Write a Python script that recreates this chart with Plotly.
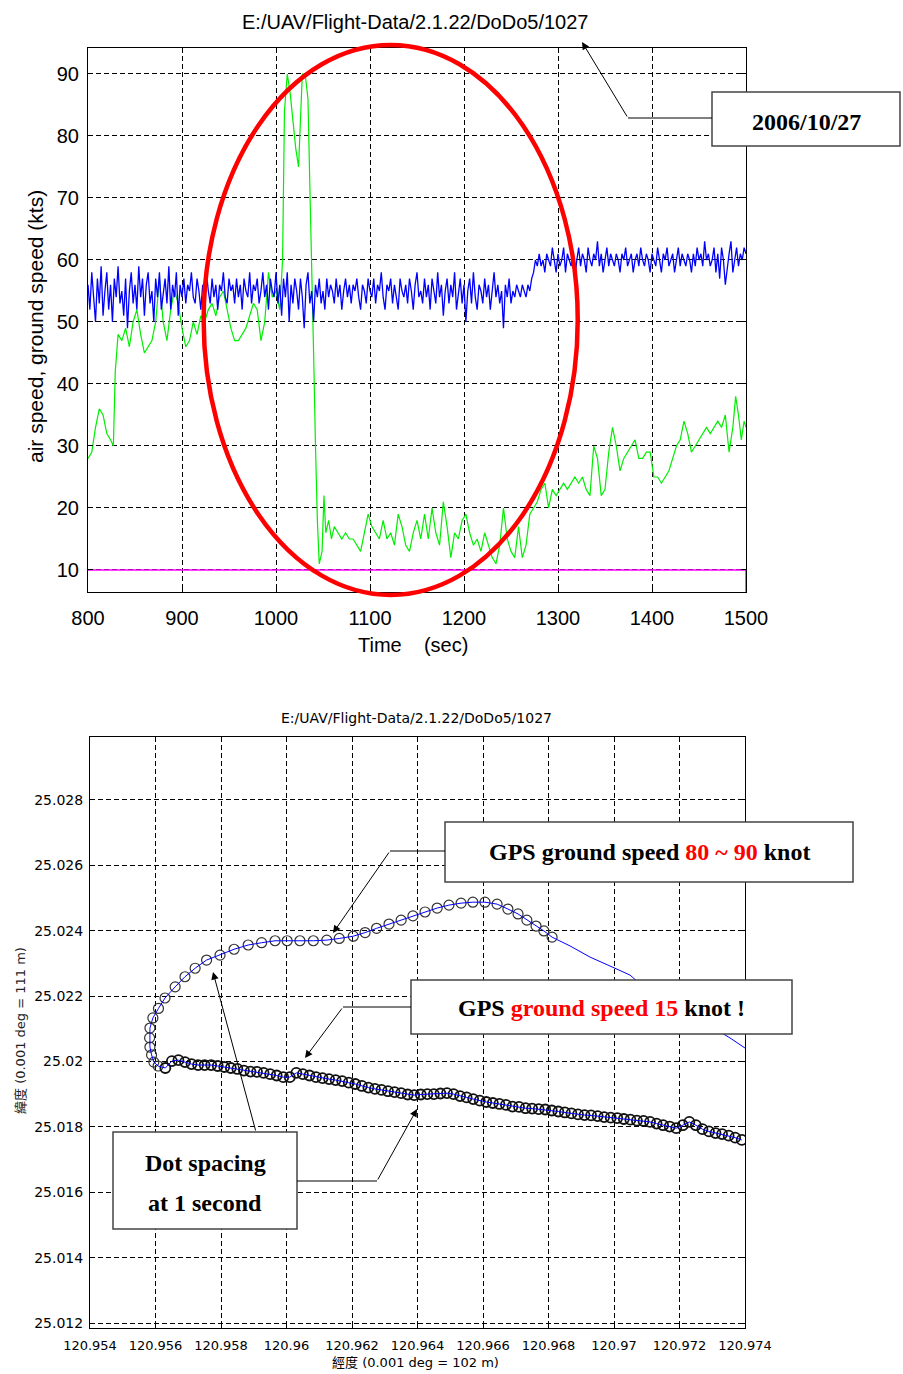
import plotly.graph_objects as go

W, H = 903, 1374

# ---------------- top panel data (time in s, speed in kts) ----------------
# ground speed (blue), sampled every 2 s from 800 s
blue_speed = [
    56, 52, 58, 54, 50, 57, 53, 59, 51, 55,
    58, 52, 56, 50, 57, 54, 59, 53, 55, 51,
    57, 49, 55, 58, 53, 56, 52, 59, 54, 57,
    51, 56, 58, 53, 55, 50, 57, 54, 58, 52,
    55, 57, 53, 59, 52, 56, 54, 58, 51, 56,
    54, 57, 53, 56, 55, 58, 54, 53, 57, 55,
    52, 56, 54, 58, 55, 53, 57, 54, 56, 52,
    56, 55, 58, 54, 53, 57, 55, 56, 53, 57,
    54, 56, 52, 57, 55, 54, 58, 53, 56, 55,
    57, 53, 55, 58, 54, 56, 52, 57, 55, 54,
    58, 53, 56, 51, 57, 54, 58, 50, 56, 53,
    57, 55, 52, 57, 54, 49, 56, 58, 53, 55,
    50, 56, 54, 57, 53, 55, 52, 57, 54, 56,
    55, 53, 57, 54, 56, 52, 55, 57, 54, 56,
    53, 56, 55, 57, 54, 52, 56, 55, 53, 57,
    55, 54, 57, 53, 56, 55, 58, 54, 52, 56,
    55, 57, 53, 56, 54, 52, 57, 55, 54, 56,
    53, 57, 55, 52, 56, 58, 54, 55, 53, 57,
    54, 56, 52, 57, 55, 53, 58, 54, 56, 51,
    55, 57, 53, 56, 54, 58, 52, 55, 57, 53,
    56, 50, 55, 57, 53, 58, 54, 52, 56, 55,
    53, 57, 54, 56, 52, 55, 58, 54, 56, 53,
    55, 49, 56, 54, 57, 53, 55, 54, 56, 55,
    54, 56, 55, 54, 56, 55, 57, 58, 60, 59,
    61, 59, 60, 58, 61, 60, 59, 62, 60, 58,
    61, 59, 60, 62, 58, 61, 60, 59, 61, 57,
    60, 62, 59, 61, 60, 58, 62, 60, 59, 61,
    60, 63, 59, 61, 58, 60, 62, 59, 61, 60,
    59, 61, 60, 58, 61, 60, 62, 59, 60, 61,
    58, 60, 61, 59, 62, 60, 59, 61, 60, 58,
    61, 60, 59, 62, 60, 58, 61, 60, 62, 59,
    60, 61, 58, 60, 62, 59, 61, 60, 59, 61,
    60, 58, 61, 59, 62, 60, 61, 59, 63, 60,
    61, 59, 60, 62, 58, 61, 57, 62, 60, 56,
    59, 61, 63, 58, 60, 62, 59, 61, 60, 62,
    61,
]
blue_time = [800 + 2 * i for i in range(len(blue_speed))]

# airspeed (green)
green_time = [
    800, 804, 808, 812, 816, 820, 824, 827, 829, 832,
    836, 840, 844, 848, 852, 856, 860, 864, 868, 872,
    876, 880, 884, 888, 892, 896, 900, 904, 908, 912,
    916, 920, 924, 928, 932, 936, 940, 944, 948, 952,
    956, 960, 964, 968, 972, 976, 980, 984, 988, 992,
    996, 1000, 1004, 1007, 1009, 1012, 1015, 1018, 1021, 1024,
    1026, 1028, 1031, 1034, 1036, 1038, 1040, 1042, 1044, 1046,
    1049, 1051, 1053, 1056, 1059, 1062, 1066, 1070, 1074, 1078,
    1082, 1086, 1090, 1094, 1098, 1102, 1106, 1110, 1114, 1118,
    1122, 1126, 1130, 1134, 1138, 1142, 1146, 1150, 1154, 1158,
    1162, 1166, 1170, 1174, 1178, 1182, 1186, 1190, 1194, 1198,
    1202, 1206, 1210, 1214, 1218, 1222, 1226, 1230, 1234, 1238,
    1242, 1246, 1250, 1254, 1258, 1262, 1266, 1270, 1274, 1278,
    1282, 1286, 1290, 1294, 1298, 1302, 1306, 1310, 1314, 1318,
    1322, 1326, 1330, 1334, 1338, 1342, 1346, 1350, 1354, 1358,
    1362, 1366, 1370, 1374, 1378, 1382, 1386, 1390, 1394, 1398,
    1402, 1406, 1410, 1414, 1418, 1422, 1426, 1430, 1434, 1438,
    1442, 1446, 1450, 1454, 1458, 1462, 1466, 1470, 1474, 1478,
    1482, 1486, 1489, 1492, 1495, 1498, 1500,
]
green_speed = [
    28, 29, 33, 36, 35, 32, 31, 30, 42, 48,
    47, 49, 46, 50, 52, 48, 45, 46, 47, 50,
    57, 50, 47, 52, 55, 53, 49, 46, 47, 50,
    48, 51, 50, 52, 53, 51, 54, 55, 52, 49,
    47, 47, 48, 49, 51, 53, 52, 47, 50, 58,
    54, 55, 52, 60, 84, 90, 87, 82, 78, 75,
    84, 90, 90, 86, 72, 60, 45, 30, 18, 11,
    13, 22, 16, 18, 15, 17, 16, 15, 16, 15,
    15, 14, 13, 16, 19, 17, 16, 15, 18, 15,
    16, 14, 19, 17, 14, 13, 16, 18, 15, 19,
    15, 20, 16, 14, 21, 17, 12, 16, 15, 18,
    19, 16, 14, 15, 13, 16, 14, 12, 11, 14,
    20, 15, 13, 12, 17, 12, 14, 19, 20, 21,
    23, 24, 20, 23, 22, 23, 24, 23, 24, 25,
    24, 25, 23, 22, 30, 28, 22, 23, 29, 33,
    30, 26, 28, 29, 30, 31, 28, 28, 29, 29,
    25, 25, 24, 25, 26, 28, 30, 31, 34, 32,
    29, 30, 31, 32, 33, 32, 33, 34, 33, 35,
    29, 33, 38, 35, 31, 34, 33,
]
limit_time = [800, 1500, 1500]
limit_speed = [10, 10, 6.5]

time_ticks = [800, 900, 1000, 1100, 1200, 1300, 1400, 1500]
speed_ticks = [10, 20, 30, 40, 50, 60, 70, 80, 90]

# highlighted window (ellipse) in data units
ell_time = [923, 1321]
ell_speed = [5.97, 94.68]

# ---------------- bottom panel data (GPS track) ----------------
tail_lon = [120.97400, 120.97354, 120.97299, 120.97232, 120.97165,
            120.97095, 120.97049, 120.96994, 120.96927, 120.96866]
tail_lat = [25.02041, 25.02072, 25.02105, 25.02145, 25.02185,
            25.02224, 25.02264, 25.02289, 25.02319, 25.02353]

loop_lon = [
    120.96811, 120.96786, 120.96762, 120.96734, 120.96707, 120.96676, 120.96643, 120.96606, 120.96569, 120.96533,
    120.96496, 120.96460, 120.96423, 120.96386, 120.96350, 120.96313, 120.96275, 120.96240, 120.96204, 120.96161,
    120.96123, 120.96082, 120.96041, 120.96002, 120.95965, 120.95924, 120.95883, 120.95840, 120.95797, 120.95756,
    120.95721, 120.95690, 120.95660, 120.95629, 120.95609, 120.95592, 120.95583, 120.95582, 120.95583, 120.95588,
    120.95595, 120.95608,
]
loop_lat = [
    25.02380, 25.02399, 25.02414, 25.02432, 25.02451, 25.02466, 25.02481, 25.02487, 25.02487, 25.02484,
    25.02478, 25.02469, 25.02457, 25.02445, 25.02432, 25.02420, 25.02407, 25.02394, 25.02383, 25.02376,
    25.02371, 25.02369, 25.02369, 25.02369, 25.02369, 25.02363, 25.02356, 25.02343, 25.02325, 25.02310,
    25.02285, 25.02259, 25.02228, 25.02194, 25.02162, 25.02133, 25.02102, 25.02072, 25.02044, 25.02020,
    25.01998, 25.01986,
]

slow_lon = [
    120.9563, 120.9565, 120.9567, 120.9569, 120.9571, 120.9573, 120.9575, 120.9577, 120.9579, 120.9581,
    120.9583, 120.9585, 120.9587, 120.9589, 120.9591, 120.9593, 120.9595, 120.9597, 120.9599, 120.9601,
    120.9603, 120.9605, 120.9607, 120.9609, 120.9611, 120.9613, 120.9615, 120.9617, 120.9619, 120.9621,
    120.9623, 120.9625, 120.9627, 120.9629, 120.9631, 120.9633, 120.9635, 120.9637, 120.9639, 120.9641,
    120.9643, 120.9645, 120.9647, 120.9649, 120.9651, 120.9653, 120.9655, 120.9657, 120.9659, 120.9661,
    120.9663, 120.9665, 120.9667, 120.9669, 120.9671, 120.9673, 120.9675, 120.9677, 120.9679, 120.9681,
    120.9683, 120.9685, 120.9687, 120.9689, 120.9691, 120.9693, 120.9695, 120.9697, 120.9699, 120.9701,
    120.9703, 120.9705, 120.9707, 120.9709, 120.9711, 120.9713, 120.9715, 120.9717, 120.9719, 120.9721,
    120.9723, 120.9725, 120.9727, 120.9729, 120.9731, 120.9733, 120.9735, 120.9737, 120.9739,
]
slow_lat = [
    25.01980, 25.02001, 25.02004, 25.01998, 25.01992, 25.01989, 25.01989, 25.01989, 25.01986, 25.01983,
    25.01980, 25.01977, 25.01972, 25.01969, 25.01968, 25.01965, 25.01961, 25.01957, 25.01952, 25.01952,
    25.01965, 25.01961, 25.01957, 25.01952, 25.01949, 25.01946, 25.01943, 25.01940, 25.01935, 25.01931,
    25.01925, 25.01920, 25.01916, 25.01913, 25.01909, 25.01906, 25.01903, 25.01899, 25.01897, 25.01899,
    25.01900, 25.01900, 25.01902, 25.01903, 25.01900, 25.01894, 25.01890, 25.01885, 25.01880, 25.01876,
    25.01873, 25.01870, 25.01867, 25.01862, 25.01861, 25.01857, 25.01856, 25.01854, 25.01853, 25.01850,
    25.01847, 25.01844, 25.01841, 25.01838, 25.01836, 25.01835, 25.01833, 25.01830, 25.01828, 25.01827,
    25.01824, 25.01822, 25.01819, 25.01818, 25.01815, 25.01810, 25.01805, 25.01801, 25.01796, 25.01805,
    25.01815, 25.01805, 25.01793, 25.01786, 25.01781, 25.01778, 25.01773, 25.01767, 25.01760,
]

lon_ticks = [120.954, 120.956, 120.958, 120.960, 120.962, 120.964,
             120.966, 120.968, 120.970, 120.972, 120.974]
lon_labels = ['120.954', '120.956', '120.958', '120.96', '120.962', '120.964',
              '120.966', '120.968', '120.97', '120.972', '120.974']
lat_ticks = [25.012, 25.014, 25.016, 25.018, 25.020, 25.022, 25.024, 25.026, 25.028]
lat_labels = ['25.012', '25.014', '25.016', '25.018', '25.02', '25.022',
              '25.024', '25.026', '25.028']

# ---------------- layout geometry ----------------
TOP_X = [88 / W, 746 / W]
TOP_Y = [1 - 592 / H, 1 - 48 / H]
TOP_XR = [800, 1500]
TOP_YR = [6.45, 94.19]
BOT_X = [90 / W, 745 / W]
BOT_Y = [1 - 1328 / H, 1 - 737 / H]
BOT_XR = [120.954, 120.974]
BOT_YR = [25.01185, 25.02992]


def px(x):
    return x / W


def py(y):
    return 1 - y / H


def data_to_paper(v, rng, dom):
    return dom[0] + (v - rng[0]) / (rng[1] - rng[0]) * (dom[1] - dom[0])


fig = go.Figure()

# top panel traces
fig.add_trace(go.Scatter(x=green_time, y=green_speed, mode='lines',
                         line=dict(color='#00ee00', width=1.2), xaxis='x', yaxis='y'))
fig.add_trace(go.Scatter(x=blue_time, y=blue_speed, mode='lines',
                         line=dict(color='#0000ff', width=1.3), xaxis='x', yaxis='y'))
fig.add_trace(go.Scatter(x=limit_time, y=limit_speed, mode='lines',
                         line=dict(color='#ff00ff', width=1.5), xaxis='x', yaxis='y'))

# bottom panel traces
track_lon = tail_lon + loop_lon + slow_lon
track_lat = tail_lat + loop_lat + slow_lat
fig.add_trace(go.Scatter(x=loop_lon, y=loop_lat, mode='markers',
                         marker=dict(symbol='circle', size=10, color='rgba(0,0,0,0)',
                                     line=dict(color='#333333', width=1.2)),
                         xaxis='x2', yaxis='y2'))
fig.add_trace(go.Scatter(x=slow_lon, y=slow_lat, mode='markers',
                         marker=dict(symbol='circle', size=10, color='rgba(0,0,0,0)',
                                     line=dict(color='#111111', width=1.8)),
                         xaxis='x2', yaxis='y2'))
fig.add_trace(go.Scatter(x=track_lon, y=track_lat, mode='lines',
                         line=dict(color='#0000ff', width=1), xaxis='x2', yaxis='y2'))

grid = dict(showline=True, linecolor='black', linewidth=1, mirror='ticks',
            ticks='inside', ticklen=5, tickcolor='black', showgrid=True,
            gridcolor='black', griddash='5px,3px', gridwidth=1, zeroline=False,
            automargin=False)

top_font = dict(family='Liberation Sans, Arial', size=20, color='black')
bot_font = dict(family='DejaVu Sans', size=13, color='black')

fig.update_layout(
    width=W, height=H, margin=dict(l=0, r=0, t=0, b=0, autoexpand=False),
    paper_bgcolor='white', plot_bgcolor='white', showlegend=False,
    xaxis=dict(domain=TOP_X, range=TOP_XR, anchor='y', tickvals=time_ticks,
               tickfont=top_font, ticklabelstandoff=8, **grid),
    yaxis=dict(domain=TOP_Y, range=TOP_YR, anchor='x', tickvals=speed_ticks,
               tickfont=top_font, ticklabelstandoff=4, **grid),
    xaxis2=dict(domain=BOT_X, range=BOT_XR, anchor='y2', tickvals=lon_ticks,
                ticktext=lon_labels, tickfont=bot_font, ticklabelstandoff=5, **grid),
    yaxis2=dict(domain=BOT_Y, range=BOT_YR, anchor='x2', tickvals=lat_ticks,
                ticktext=lat_labels, tickfont=dict(family='DejaVu Sans', size=14, color='black'),
                ticklabelstandoff=3, **grid),
)

shapes = []
ann = []

# ellipse highlighting the window
shapes.append(dict(type='circle', xref='paper', yref='paper',
                   x0=data_to_paper(ell_time[0], TOP_XR, TOP_X),
                   x1=data_to_paper(ell_time[1], TOP_XR, TOP_X),
                   y0=data_to_paper(ell_speed[0], TOP_YR, TOP_Y),
                   y1=data_to_paper(ell_speed[1], TOP_YR, TOP_Y),
                   line=dict(color='#ff0000', width=4.5)))

# titles and axis titles
ann.append(dict(text='E:/UAV/Flight-Data/2.1.22/DoDo5/1027', x=px(415), y=py(22),
                xref='paper', yref='paper', showarrow=False, xanchor='center', yanchor='middle',
                font=top_font))
ann.append(dict(text='air speed, ground speed (kts)', x=px(35), y=py(327), textangle=-90,
                xref='paper', yref='paper', showarrow=False, xanchor='center', yanchor='middle',
                font=dict(family='Liberation Sans, Arial', size=21, color='black')))
ann.append(dict(text='Time\u00a0\u00a0\u00a0\u00a0(sec)', x=px(413), y=py(645),
                xref='paper', yref='paper', showarrow=False, xanchor='center', yanchor='middle',
                font=top_font))
ann.append(dict(text='E:/UAV/Flight-Data/2.1.22/DoDo5/1027', x=px(416), y=py(718),
                xref='paper', yref='paper', showarrow=False, xanchor='center', yanchor='middle',
                font=dict(family='DejaVu Sans', size=14, color='black')))
ann.append(dict(text='經度 (0.001 deg = 102 m)', x=px(415), y=py(1362),
                xref='paper', yref='paper', showarrow=False, xanchor='center', yanchor='middle',
                font=dict(family='DejaVu Sans, Noto Sans CJK TC', size=13, color='black')))
ann.append(dict(text='緯度 (0.001 deg = 111 m)', x=px(20), y=py(1031), textangle=-90,
                xref='paper', yref='paper', showarrow=False, xanchor='center', yanchor='middle',
                font=dict(family='DejaVu Sans, Noto Sans CJK TC', size=13, color='#222')))

serif = 'Liberation Serif, Times New Roman'


def box(x0, y0, x1, y1):
    shapes.append(dict(type='rect', xref='paper', yref='paper',
                       x0=px(x0), x1=px(x1), y0=py(y1), y1=py(y0),
                       line=dict(color='#444444', width=1.5), fillcolor='white'))


def seg(x0, y0, x1, y1):
    shapes.append(dict(type='line', xref='paper', yref='paper',
                       x0=px(x0), x1=px(x1), y0=py(y0), y1=py(y1),
                       line=dict(color='black', width=1)))


def arrow(tipx, tipy, tailx, taily):
    ann.append(dict(text='', x=px(tipx), y=py(tipy), xref='paper', yref='paper',
                    showarrow=True, ax=tailx - tipx, ay=taily - tipy,
                    arrowhead=2, arrowsize=1.5, arrowwidth=1, arrowcolor='black'))


def label(text, x, y, size=24):
    ann.append(dict(text=text, x=px(x), y=py(y), xref='paper', yref='paper',
                    showarrow=False, xanchor='center', yanchor='middle',
                    font=dict(family=serif, size=size, color='black')))


# date box
box(712, 92, 900, 146)
label('<b>2006/10/27</b>', 806, 122, 24)
seg(712, 118, 628, 118)
arrow(582, 42, 628, 118)

# 80-90 knot box
box(445, 822, 853, 882)
label("<b>GPS ground speed <span style='color:#ff0000'>80 ~ 90</span> knot</b>", 649, 852, 24)
seg(445, 851, 390, 851)
arrow(333, 933, 390, 851)

# 15 knot box
box(411, 980, 792, 1034)
label("<b>GPS <span style='color:#ff0000'>ground speed 15</span> knot !</b>", 601, 1008, 24)
seg(411, 1007, 343, 1007)
arrow(305, 1058, 343, 1007)

# dot spacing box
box(113, 1132, 297, 1229)
label('<b>Dot spacing</b>', 205, 1163, 24)
label('<b>at 1 second</b>', 205, 1203, 24)
arrow(213, 972, 256, 1132)
seg(297, 1181, 377, 1181)
arrow(417, 1109, 377, 1181)

fig.update_layout(shapes=shapes, annotations=ann)
fig.write_html('out.html')
